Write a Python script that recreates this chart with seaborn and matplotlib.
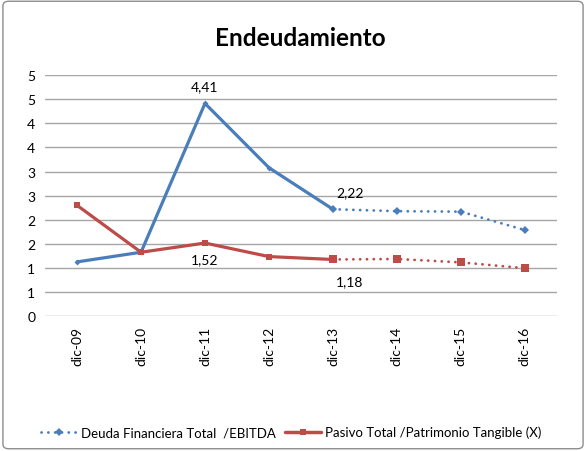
import matplotlib
matplotlib.use("Agg")
import matplotlib.pyplot as plt
import seaborn as sns
import pandas as pd
from matplotlib.lines import Line2D
from matplotlib.patches import FancyBboxPatch

# data
periods = ["dic-09", "dic-10", "dic-11", "dic-12", "dic-13", "dic-14", "dic-15", "dic-16"]
deuda_ebitda = [1.13, 1.33, 4.41, 3.08, 2.22, 2.18, 2.17, 1.79]
pasivo_patrimonio = [2.30, 1.33, 1.52, 1.24, 1.18, 1.19, 1.12, 1.00]
y_ticks = [0, 0.5, 1, 1.5, 2, 2.5, 3, 3.5, 4, 4.5, 5]
y_tick_labels = ["0", "1", "1", "2", "2", "3", "3", "4", "4", "5", "5"]
last_actual = 4  # dic-13: solid up to here, projection (dotted) afterwards
labelled = [2, 4]

BLUE = "#4a7ebb"
RED = "#be4b48"
GRID = "#a6a6a6"
DOTS = (0, (0.05, 2.4))

sns.set_theme(style="white")
plt.rcParams["font.family"] = ["Lato", "DejaVu Sans"]
plt.rcParams["text.color"] = "black"
plt.rcParams["xtick.color"] = "black"
plt.rcParams["ytick.color"] = "black"

df = pd.DataFrame({
    "idx": range(len(periods)),
    "periodo": periods,
    "deuda": deuda_ebitda,
    "pasivo": pasivo_patrimonio,
})
hist = df[df["idx"] <= last_actual]
proj = df[df["idx"] >= last_actual]

fig = plt.figure(figsize=(5.86, 4.52), dpi=100)
ax = fig.add_axes([0.077, 0.2976, 0.873, 0.5344])

for col, color, marker, msize in [("deuda", BLUE, "D", 3), ("pasivo", RED, "s", 4)]:
    sns.lineplot(data=hist, x="idx", y=col, ax=ax, color=color, lw=2.3,
                 marker=marker, markersize=msize, markeredgewidth=0, sort=False)
    sns.lineplot(data=proj, x="idx", y=col, ax=ax, color=color, lw=2.0,
                 linestyle=DOTS, dash_capstyle="round",
                 marker=marker, markersize=msize + 1.5, markeredgewidth=0, sort=False)

# data labels
for i in labelled:
    dx = 0 if i == 2 else 12
    ax.annotate(f"{deuda_ebitda[i]:.2f}".replace(".", ","), (i, deuda_ebitda[i]),
                xytext=(dx, 8), textcoords="offset points", ha="center",
                va="bottom", fontsize=10)
    dy = -7 if i == 2 else -11
    ax.annotate(f"{pasivo_patrimonio[i]:.2f}".replace(".", ","), (i, pasivo_patrimonio[i]),
                xytext=(dx, dy), textcoords="offset points", ha="center",
                va="top", fontsize=10)

ax.set_xlim(-0.5, len(periods) - 0.5)
ax.set_ylim(0, 5)
ax.set_xticks(df["idx"])
ax.set_xticklabels(periods, rotation=90, fontsize=10)
ax.set_yticks(y_ticks)
ax.set_yticklabels(y_tick_labels, fontsize=10)
ax.tick_params(axis="both", length=0, pad=7)
ax.set_xlabel("")
ax.set_ylabel("")
ax.grid(axis="y", color=GRID, lw=1)
ax.set_axisbelow(True)
for s in ax.spines.values():
    s.set_visible(False)

fig.text(0.512, 0.915, "Endeudamiento", ha="center", va="center",
         fontsize=17.5, fontweight="bold")

handles = [
    Line2D([], [], color=BLUE, lw=2, linestyle=DOTS, dash_capstyle="round",
           marker="D", markersize=4, markeredgewidth=0),
    Line2D([], [], color=RED, lw=2.5, marker="s", markersize=4, markeredgewidth=0),
]
fig.legend(handles, ["Deuda Financiera Total  /EBITDA", "Pasivo Total /Patrimonio Tangible (X)"],
           loc="center", bbox_to_anchor=(0.497, 0.042), ncol=2, frameon=False,
           fontsize=9.5, handlelength=2.7, handletextpad=0.35, columnspacing=0.7,
           numpoints=1)

fig.patches.append(FancyBboxPatch((0.005, 0.005), 0.99, 0.99, boxstyle="round,pad=0,rounding_size=0.01",
                                  transform=fig.transFigure, fill=False,
                                  edgecolor="#8c8c8c", lw=1))

fig.savefig("out.png", dpi=100)
